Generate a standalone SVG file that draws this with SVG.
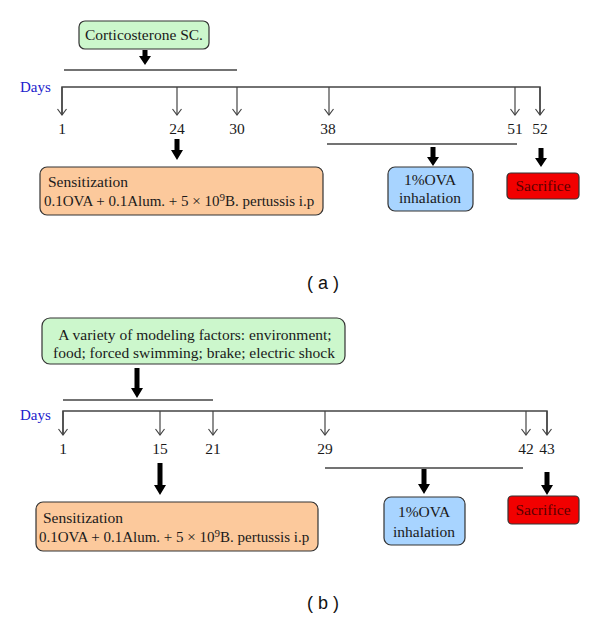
<svg xmlns="http://www.w3.org/2000/svg" width="600" height="635" viewBox="0 0 600 635">
<style>
.t{font-family:"Liberation Serif","Times New Roman",serif;font-size:15.5px;fill:#1a1a1a}
.s{font-size:15px}
.c{text-anchor:middle}
.days{font-family:"Liberation Serif",serif;font-size:15px;fill:#2222cc}
.cap{font-family:"Liberation Sans",Arial,sans-serif;font-size:18px;fill:#111;text-anchor:middle}
.ln{stroke:#444;stroke-width:1.5;fill:none}
.tk{stroke:#444;stroke-width:1.2;fill:none;marker-end:url(#chev)}
.green{fill:#ccf7cc;stroke:#333;stroke-width:1.2}
.orange{fill:#fcc99c;stroke:#333;stroke-width:1.2}
.blue{fill:#a8d4ff;stroke:#333;stroke-width:1.2}
.red{fill:#f20000;stroke:#333;stroke-width:1.2}
.ba{fill:#000}
</style>
<defs>
<marker id="chev" markerUnits="userSpaceOnUse" markerWidth="12" markerHeight="12" refX="0" refY="0" orient="auto" overflow="visible">
<path d="M-6,-4.5 L0,0 L-6,4.5" fill="none" stroke="#444" stroke-width="1.2"/>
</marker>
</defs>
<rect width="600" height="635" fill="#fff"/>

<!-- Panel a -->
<g id="a-cort"><rect class="green" x="79" y="21" width="130" height="28" rx="6"/><text class="t c" x="144" y="40">Corticosterone SC.</text></g>
<g id="a-sens"><rect class="orange" x="40" y="167" width="283" height="48" rx="7"/><text class="t" x="48" y="187">Sensitization</text><text class="t s" x="44" y="206">0.1OVA + 0.1Alum. + 5 × 10<tspan dy="-5" font-size="11">9</tspan><tspan dy="5">B. pertussis i.p</tspan></text></g>
<g id="a-ova"><rect class="blue" x="388" y="167" width="85" height="44" rx="7"/><text class="t c" x="430" y="185">1%OVA</text><text class="t c" x="430" y="203">inhalation</text></g>
<g id="a-sac"><rect class="red" x="507" y="173" width="72" height="26" rx="4"/><text class="t c" x="543" y="191" style="fill:#5a0000">Sacrifice</text></g>
<text class="days" x="20" y="92">Days</text>
<g class="t c"><text x="62" y="134">1</text><text x="177" y="134">24</text><text x="237" y="134">30</text><text x="328" y="134">38</text><text x="515" y="134">51</text><text x="540" y="134">52</text></g>
<text class="cap" x="323" y="289">( a )</text>

<g id="a-connectors">
<line class="ln" x1="64" y1="70" x2="237" y2="70"/>
<polyline class="ln" points="62,115 62,87 540,87 540,115"/>
<line class="tk" x1="62" y1="87" x2="62" y2="115"/>
<line class="tk" x1="177" y1="87" x2="177" y2="115"/>
<line class="tk" x1="237" y1="87" x2="237" y2="115"/>
<line class="tk" x1="329" y1="87" x2="329" y2="115"/>
<line class="tk" x1="515" y1="87" x2="515" y2="115"/>
<line class="tk" x1="540" y1="87" x2="540" y2="115"/>
<line class="ln" x1="327" y1="144" x2="517" y2="144"/>
<polygon class="ba" points="142.5,50 147.5,50 147.5,56 151,56 145,65 139,56 142.5,56"/>
<polygon class="ba" points="174.5,139 179.5,139 179.5,150 183,150 177,160 171,150 174.5,150"/>
<polygon class="ba" points="430.5,147 435.5,147 435.5,157 439,157 433,166 427,157 430.5,157"/>
<polygon class="ba" points="538.5,148 543.5,148 543.5,158 547,158 541,167 535,158 538.5,158"/>
</g>

<!-- Panel b -->
<g id="b-factors"><rect class="green" x="42" y="318" width="303" height="46" rx="8"/><text class="t c" x="195" y="340">A variety of modeling factors: environment;</text><text class="t c" x="194" y="358">food; forced swimming; brake; electric shock</text></g>
<g id="b-sens"><rect class="orange" x="36" y="502" width="282" height="49" rx="7"/><text class="t" x="43" y="523">Sensitization</text><text class="t s" x="39" y="542">0.1OVA + 0.1Alum. + 5 × 10<tspan dy="-5" font-size="11">9</tspan><tspan dy="5">B. pertussis i.p</tspan></text></g>
<g id="b-ova"><rect class="blue" x="384" y="497" width="81" height="48" rx="7"/><text class="t c" x="424" y="517">1%OVA</text><text class="t c" x="424" y="537">inhalation</text></g>
<g id="b-sac"><rect class="red" x="508" y="496" width="71" height="28" rx="4"/><text class="t c" x="543" y="515" style="fill:#5a0000">Sacrifice</text></g>
<text class="days" x="20" y="420">Days</text>
<g class="t c"><text x="63" y="454">1</text><text x="160" y="454">15</text><text x="213" y="454">21</text><text x="325" y="454">29</text><text x="526" y="454">42</text><text x="547" y="454">43</text></g>
<text class="cap" x="323" y="609">( b )</text>

<g id="b-connectors">
<line class="ln" x1="63" y1="400" x2="213" y2="400"/>
<polyline class="ln" points="63,435 63,411 547,411 547,435"/>
<line class="tk" x1="63" y1="411" x2="63" y2="435"/>
<line class="tk" x1="160" y1="411" x2="160" y2="435"/>
<line class="tk" x1="213" y1="411" x2="213" y2="435"/>
<line class="tk" x1="325" y1="411" x2="325" y2="435"/>
<line class="tk" x1="526" y1="411" x2="526" y2="435"/>
<line class="tk" x1="547" y1="411" x2="547" y2="435"/>
<line class="ln" x1="325" y1="468" x2="523" y2="468"/>
<polygon class="ba" points="134.5,368 139.5,368 139.5,388 143,388 137,398 131,388 134.5,388"/>
<polygon class="ba" points="157.5,463 162.5,463 162.5,485 166,485 160,495 154,485 157.5,485"/>
<polygon class="ba" points="421.5,469 426.5,469 426.5,484 430,484 424,494 418,484 421.5,484"/>
<polygon class="ba" points="544.5,472 549.5,472 549.5,485 553,485 547,495 541,485 544.5,485"/>
</g>
</svg>
